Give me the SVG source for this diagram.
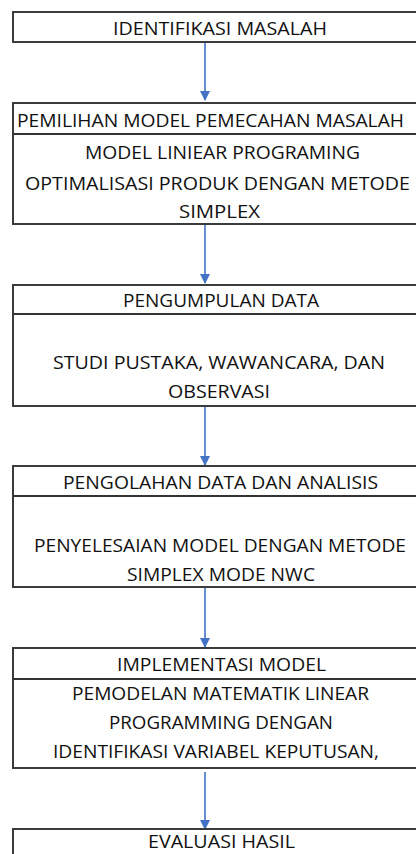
<svg xmlns="http://www.w3.org/2000/svg" width="416" height="854" viewBox="0 0 416 854">
<style>
.box{fill:#ffffff;stroke:#333333;stroke-width:1.9}
.div{stroke:#333333;stroke-width:1.9}
.t{font-family:"Open Sans","Noto Sans","Liberation Sans",sans-serif;font-size:19px;fill:#111111}
.conn{stroke:#4472C4;stroke-width:1.6;fill:none}
</style>
<defs>
<marker id="ah" markerWidth="10" markerHeight="10" refX="9" refY="5" orient="auto" markerUnits="userSpaceOnUse">
<path d="M0,0 L10,5 L0,10 Z" fill="#4472C4"/>
</marker>
</defs>
<rect width="416" height="854" fill="#ffffff"/>
<g id="connectors">
<line class="conn" x1="205" y1="42" x2="205" y2="100" marker-end="url(#ah)"/>
<line class="conn" x1="205" y1="225" x2="205" y2="283" marker-end="url(#ah)"/>
<line class="conn" x1="205" y1="407" x2="205" y2="465" marker-end="url(#ah)"/>
<line class="conn" x1="205" y1="588" x2="205" y2="647" marker-end="url(#ah)"/>
<line class="conn" x1="205" y1="772" x2="205" y2="829" marker-end="url(#ah)"/>
</g>
<g id="node-identifikasi">
<rect class="box" x="13" y="12" width="420" height="30"/>
<text class="t" x="113" y="35" textLength="214" lengthAdjust="spacingAndGlyphs">IDENTIFIKASI MASALAH</text>
</g>
<g id="node-pemilihan">
<rect class="box" x="13" y="103" width="420" height="121"/>
<line class="div" x1="13" y1="134" x2="433" y2="134"/>
<text class="t" x="17" y="127" textLength="387" lengthAdjust="spacingAndGlyphs">PEMILIHAN MODEL PEMECAHAN MASALAH</text>
<text class="t" x="85" y="159" textLength="275" lengthAdjust="spacingAndGlyphs">MODEL LINIEAR PROGRAMING</text>
<text class="t" x="25" y="190" textLength="385" lengthAdjust="spacingAndGlyphs">OPTIMALISASI PRODUK DENGAN METODE</text>
<text class="t" x="179" y="218" textLength="81" lengthAdjust="spacingAndGlyphs">SIMPLEX</text>
</g>
<g id="node-pengumpulan">
<rect class="box" x="13" y="285" width="420" height="121"/>
<line class="div" x1="13" y1="314" x2="433" y2="314"/>
<text class="t" x="123" y="307" textLength="196" lengthAdjust="spacingAndGlyphs">PENGUMPULAN DATA</text>
<text class="t" x="53" y="369" textLength="332" lengthAdjust="spacingAndGlyphs">STUDI PUSTAKA, WAWANCARA, DAN</text>
<text class="t" x="168" y="398" textLength="102" lengthAdjust="spacingAndGlyphs">OBSERVASI</text>
</g>
<g id="node-pengolahan">
<rect class="box" x="13" y="466" width="420" height="121"/>
<line class="div" x1="13" y1="496" x2="433" y2="496"/>
<text class="t" x="63" y="489" textLength="315" lengthAdjust="spacingAndGlyphs">PENGOLAHAN DATA DAN ANALISIS</text>
<text class="t" x="34" y="552" textLength="372" lengthAdjust="spacingAndGlyphs">PENYELESAIAN MODEL DENGAN METODE</text>
<text class="t" x="127" y="581" textLength="188" lengthAdjust="spacingAndGlyphs">SIMPLEX MODE NWC</text>
</g>
<g id="node-implementasi">
<rect class="box" x="13" y="648" width="420" height="120"/>
<line class="div" x1="13" y1="679" x2="433" y2="679"/>
<text class="t" x="117" y="671" textLength="209" lengthAdjust="spacingAndGlyphs">IMPLEMENTASI MODEL</text>
<text class="t" x="72" y="700" textLength="297" lengthAdjust="spacingAndGlyphs">PEMODELAN MATEMATIK LINEAR</text>
<text class="t" x="109" y="729" textLength="224" lengthAdjust="spacingAndGlyphs">PROGRAMMING DENGAN</text>
<text class="t" x="53" y="758" textLength="326" lengthAdjust="spacingAndGlyphs">IDENTIFIKASI VARIABEL KEPUTUSAN,</text>
</g>
<g id="node-evaluasi">
<rect class="box" x="13" y="829" width="420" height="40"/>
<text class="t" x="148" y="848" textLength="147" lengthAdjust="spacingAndGlyphs">EVALUASI HASIL</text>
</g>
</svg>
